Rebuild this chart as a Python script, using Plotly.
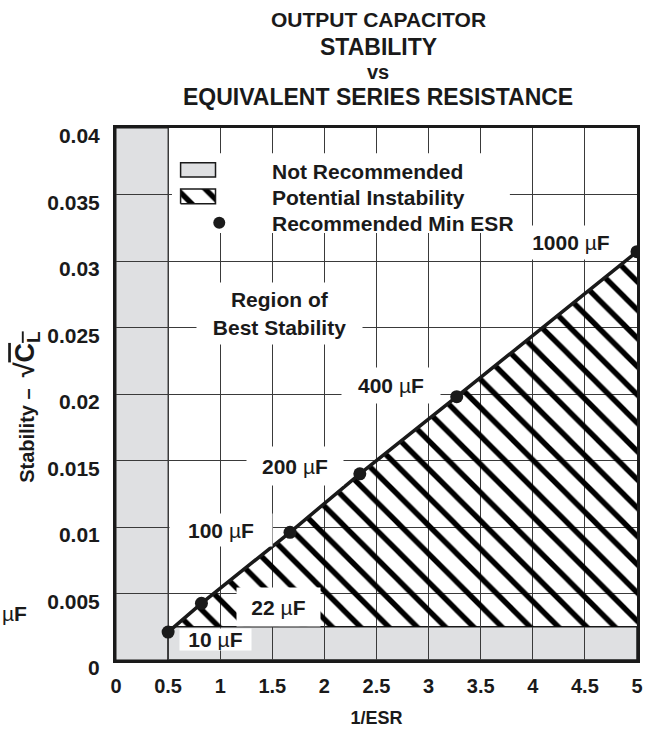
import plotly.graph_objects as go

# ---------------- data ----------------
inv_esr = [0.5, 0.82, 1.67, 2.34, 3.27, 5.0]          # 1/ESR
stability = [0.0021, 0.00426, 0.0096, 0.0140, 0.0198, 0.0307]  # sqrt(C_L)
cap_labels = ["10 µF", "22 µF", "100 µF", "200 µF", "400 µF", "1000 µF"]

not_rec_x_max = 0.5       # 1/ESR below this: not recommended
not_rec_y_max = 0.0025    # stability below this: not recommended

x_ticks = [0, 0.5, 1, 1.5, 2, 2.5, 3, 3.5, 4, 4.5, 5]
x_ticktext = ["0", "0.5", "1", "1.5", "2", "2.5", "3", "3.5", "4", "4.5", "5"]
y_ticks = [0, 0.005, 0.01, 0.015, 0.02, 0.025, 0.03, 0.035, 0.04]
y_ticktext = ["0", "0.005", "0.01", "0.015", "0.02", "0.025", "0.03", "0.035", "0.04"]

# ---------------- layout constants (positions / styles) ----------------
FONT = "Liberation Sans, Arial, Helvetica, sans-serif"
INK = "#1a1a1a"
GRAY = "#dfe0e2"
GRID = "#3a3a3a"

# label boxes: (x, y, width_px, height_px), centre in data coords
label_boxes = [
    (0.955, 0.00156, 71, 21),
    (1.56, 0.0040, 83, 38),
    (1.005, 0.00979, 102, 32),
    (1.718, 0.01455, 96, 38),
    (2.639, 0.02065, 98, 35),
    (4.367, 0.03139, 86, 33),
]

fig = go.Figure()

# hatch region polygon (between the min-ESR line and the lower not-recommended band)
x0, x1 = inv_esr[0], inv_esr[1]
y0, y1 = stability[0], stability[1]
x_int = x0 + (not_rec_y_max - y0) * (x1 - x0) / (y1 - y0)
hx = [x_int] + inv_esr[1:] + [inv_esr[-1], x_int]
hy = [not_rec_y_max] + stability[1:] + [not_rec_y_max, not_rec_y_max]

pattern = dict(shape="\\", size=20, solidity=0.27, fgcolor="#000000", fgopacity=1,
               bgcolor="rgba(0,0,0,0)", fillmode="overlay")

fig.add_trace(go.Scatter(x=hx, y=hy, mode="lines", fill="toself",
                         fillcolor="rgba(0,0,0,0)", fillpattern=pattern,
                         line=dict(width=0), hoverinfo="skip", showlegend=False))

# recommended min ESR line with points
fig.add_trace(go.Scatter(x=inv_esr, y=stability, mode="lines+markers",
                         line=dict(color=INK, width=3.5),
                         marker=dict(color=INK, size=13),
                         text=cap_labels, hoverinfo="text", showlegend=False))

# legend swatches (custom legend)
leg_x = [0.62, 0.955]
fig.add_trace(go.Scatter(x=[leg_x[0], leg_x[1], leg_x[1], leg_x[0], leg_x[0]],
                         y=[0.03431, 0.03431, 0.03541, 0.03541, 0.03431],
                         mode="lines", fill="toself", fillcolor="rgba(0,0,0,0)",
                         fillpattern=pattern, line=dict(color=INK, width=1.5),
                         hoverinfo="skip", showlegend=False))
fig.add_trace(go.Scatter(x=[0.991], y=[0.03288], mode="markers",
                         marker=dict(color=INK, size=12),
                         hoverinfo="skip", showlegend=False))

shapes = [
    dict(type="rect", xref="x", yref="y", x0=0, x1=not_rec_x_max, y0=0, y1=0.04,
         fillcolor=GRAY, line=dict(color=INK, width=1), layer="below"),
    dict(type="rect", xref="x", yref="y", x0=not_rec_x_max, x1=5, y0=0, y1=not_rec_y_max,
         fillcolor=GRAY, line=dict(color=INK, width=1.5), layer="below"),
    # legend white background
    dict(type="rect", xref="x", yref="y", x0=0.537, x1=3.78, y0=0.0321, y1=0.03811,
         fillcolor="white", line=dict(width=0), layer="between"),
    dict(type="rect", xref="x", yref="y", x0=leg_x[0], x1=leg_x[1], y0=0.03631, y1=0.03739,
         fillcolor=GRAY, line=dict(color=INK, width=1.5), layer="between"),
]

lab_font = dict(family=FONT, size=21, color=INK, weight="bold")
annotations = []


def mu(t):
    return t.replace("µ", "<span style='font-weight:normal'>µ</span>")


for txt, (bx, by, bw, bh) in zip(cap_labels, label_boxes):
    annotations.append(dict(x=bx, y=by, xref="x", yref="y", text=mu(txt), showarrow=False,
                            font=lab_font, bgcolor="white", width=bw, height=bh,
                            borderpad=0, xanchor="center", yanchor="middle"))

annotations.append(dict(x=1.569, y=0.02606, xref="x", yref="y",
                        text="Region of<br>Best Stability", showarrow=False,
                        font=lab_font, bgcolor="white", width=165, height=61,
                        borderpad=0, align="center"))

for txt, yy in [("Not Recommended", 0.03676), ("Potential Instability", 0.03478),
                ("Recommended Min ESR", 0.03281)]:
    annotations.append(dict(x=1.478, y=yy, xref="x", yref="y", text=txt, showarrow=False,
                            font=lab_font, xanchor="left", yanchor="middle"))

# stray label fragment at left edge
annotations.append(dict(x=-0.2226, y=0.0035, xref="paper", yref="y", text=mu("µF"),
                        showarrow=False, font=lab_font, xanchor="left", yanchor="middle"))

# title lines
for txt, py, sz in [("OUTPUT CAPACITOR", 1.204, 21), ("STABILITY", 1.153, 23),
                    ("vs", 1.106, 20), ("EQUIVALENT SERIES RESISTANCE", 1.059, 23)]:
    annotations.append(dict(x=0.503, y=py, xref="paper", yref="paper", text=txt,
                            showarrow=False, font=dict(family=FONT, size=sz, color=INK, weight="bold"),
                            xanchor="center", yanchor="middle"))

# y-axis title
annotations.append(dict(
    x=-0.1708, y=0.474, xref="paper", yref="paper", textangle=-90,
    text="Stability –  <span style='font-size:27px'>√<span style='text-decoration:overline'>C<sub>L</sub></span></span>",
    showarrow=False, font=dict(family=FONT, size=20, color=INK, weight="bold"),
    xanchor="center", yanchor="middle"))

fig.update_layout(
    width=646, height=729,
    margin=dict(l=116, r=9, t=128, b=69, autoexpand=False),
    paper_bgcolor="white", plot_bgcolor="white",
    shapes=shapes, annotations=annotations,
    showlegend=False,
    xaxis=dict(range=[0, 5], tickvals=x_ticks, ticktext=x_ticktext, automargin=False,
               showgrid=True, gridcolor=GRID, gridwidth=1,
               showline=True, linecolor=INK, linewidth=3, mirror=True,
               ticks="", ticklabelstandoff=6,
               tickfont=dict(family=FONT, size=20, color=INK, weight="bold"), zeroline=False,
               title=dict(text="1/ESR", font=dict(family=FONT, size=18, color=INK, weight="bold"),
                          standoff=16)),
    yaxis=dict(range=[0, 0.04], tickvals=y_ticks, ticktext=y_ticktext, automargin=False,
               showgrid=True, gridcolor=GRID, gridwidth=1,
               showline=True, linecolor=INK, linewidth=3, mirror=True,
               ticks="", ticklabelstandoff=9, ticklabelshift=8,
               tickfont=dict(family=FONT, size=21, color=INK, weight="bold"), zeroline=False),
)

fig.write_html("out.html", post_script="document.body.style.margin='0';",
               config={"displayModeBar": False})
